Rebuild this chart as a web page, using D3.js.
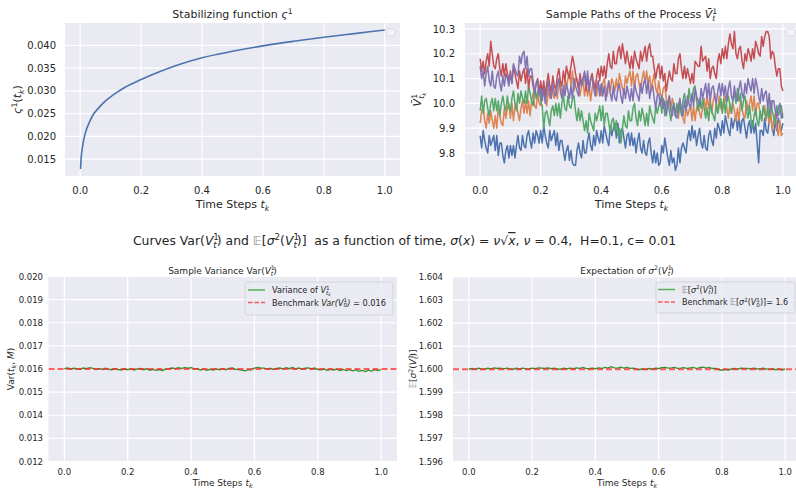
<!DOCTYPE html>
<html><head><meta charset="utf-8">
<script src="https://cdn.jsdelivr.net/npm/d3@7"></script>
<style>body{margin:0;background:#fff}svg{display:block;font-family:"DejaVu Sans",sans-serif}</style>
</head><body><svg id="c" width="796" height="489"></svg>
<script>
// ---------- DATA ----------
const xTickVals = [0, 0.2, 0.4, 0.6, 0.8, 1.0];
const stabYTicks = [0.015, 0.020, 0.025, 0.030, 0.035, 0.040];
const pathYTicks = [9.8, 9.9, 10.0, 10.1, 10.2, 10.3];
const varYTicks = [0.012, 0.013, 0.014, 0.015, 0.016, 0.017, 0.018, 0.019, 0.020];
const expYTicks = [1.596, 1.597, 1.598, 1.599, 1.600, 1.601, 1.602, 1.603, 1.604];

const stabT = [0.001,0.003,0.008,0.015,0.021,0.03,0.043,0.06,0.075,0.1,0.119,0.15,0.2,0.26,0.32,0.4,0.5,0.6,0.7,0.8,0.9,1.0];
const stabV = [0.0128,0.0152,0.0179,0.0203,0.0216,0.0231,0.0248,0.0262,0.0273,0.0287,0.0296,0.0309,0.0325,0.0342,0.0357,0.0373,0.0387,0.0399,0.0409,0.0418,0.0426,0.0434];

const pathBlue = [
9.87,9.82,9.89,9.85,9.82,9.80,9.87,9.83,9.85,9.87,
9.81,9.87,9.79,9.84,9.84,9.79,9.76,9.81,9.83,9.78,
9.83,9.79,9.83,9.78,9.83,9.87,9.82,9.81,9.87,9.83,
9.82,9.87,9.89,9.85,9.82,9.88,9.84,9.89,9.87,9.84,
9.89,9.84,9.91,9.87,9.84,9.82,9.89,9.85,9.87,9.89,
9.83,9.88,9.81,9.85,9.85,9.81,9.77,9.81,9.83,9.77,
9.81,9.76,9.75,9.75,9.81,9.84,9.80,9.78,9.85,9.80,
9.80,9.85,9.88,9.83,9.81,9.87,9.83,9.89,9.86,9.84,
9.89,9.84,9.91,9.88,9.85,9.83,9.91,9.87,9.90,9.92,
9.86,9.92,9.84,9.89,9.90,9.86,9.82,9.87,9.88,9.83,
9.88,9.83,9.86,9.80,9.85,9.88,9.82,9.80,9.85,9.80,
9.79,9.84,9.86,9.80,9.76,9.81,9.76,9.80,9.75,9.76,
9.83,9.80,9.86,9.82,9.78,9.75,9.81,9.76,9.78,9.73,
9.75,9.82,9.76,9.82,9.84,9.82,9.80,9.86,9.89,9.85,
9.91,9.86,9.89,9.83,9.87,9.90,9.84,9.82,9.87,9.82,
9.81,9.87,9.89,9.85,9.83,9.90,9.86,9.92,9.90,9.87,
9.93,9.88,9.95,9.92,9.89,9.87,9.94,9.90,9.93,9.95,
9.89,9.95,9.88,9.93,9.94,9.90,9.86,9.91,9.93,9.88,
9.93,9.88,9.92,9.84,9.76,9.89,9.89,9.87,9.94,9.89,
9.88,9.93,9.95,9.90,9.87,9.93,9.89,9.94,9.92,9.89,
9.92];
const pathOrange = [
9.92,9.97,9.99,9.93,9.90,9.96,9.92,9.97,9.93,9.90,
9.95,9.90,9.98,9.95,9.92,9.91,9.98,9.94,9.98,10.00,
9.94,10.00,9.93,9.99,10.00,9.96,9.93,9.98,10.01,9.96,
10.01,9.96,10.01,9.95,10.01,10.04,9.99,9.98,10.04,10.00,
9.99,10.04,10.07,10.02,9.99,10.06,10.02,10.07,10.04,10.02,
10.07,10.02,10.10,10.07,10.05,10.03,10.10,10.07,10.10,10.13,
10.07,10.13,10.05,10.10,10.10,10.06,10.03,10.07,10.09,10.03,
10.08,10.03,10.07,10.01,10.06,10.09,10.05,10.03,10.09,10.04,
10.03,10.08,10.10,10.06,10.03,10.09,10.05,10.10,10.08,10.05,
10.10,10.05,10.12,10.09,10.06,10.04,10.11,10.08,10.11,10.13,
10.07,10.13,10.06,10.11,10.12,10.08,10.05,10.10,10.13,10.08,
10.13,10.08,10.11,10.05,10.09,10.12,10.06,10.04,10.09,10.04,
10.02,10.06,10.07,10.02,9.98,10.03,9.98,10.02,9.99,9.95,
9.99,9.94,10.01,9.97,9.94,9.92,9.99,9.95,9.97,9.99,
9.93,9.99,9.93,9.98,10.00,9.96,9.94,9.99,10.02,9.97,
10.03,9.98,10.02,9.96,10.01,10.04,9.99,9.97,10.03,9.98,
9.97,10.02,10.03,9.98,9.94,10.00,9.96,10.00,9.97,9.93,
9.98,9.93,10.01,9.98,9.95,9.94,10.01,9.97,10.00,10.03,
9.97,10.03,9.95,10.00,10.00,9.96,9.93,9.97,9.99,9.93,
9.98,9.92,9.96,9.89,9.93,9.96,9.90,9.87,9.93,9.87,
9.88];
const pathGreen = [
9.97,10.03,9.96,10.01,10.02,9.98,9.95,10.00,10.02,9.97,
10.02,9.97,10.01,9.95,10.00,10.03,9.99,9.97,10.03,9.98,
9.97,10.02,10.05,10.00,9.97,10.04,10.00,10.05,10.02,10.00,
10.05,10.00,10.07,10.04,10.01,9.99,10.06,10.02,10.05,10.07,
10.01,9.99,9.90,9.96,9.97,9.94,9.91,9.97,9.99,9.95,
10.00,9.95,10.00,9.94,10.00,10.03,9.98,9.97,10.03,9.99,
9.98,10.02,10.03,9.97,9.93,9.98,9.93,9.97,9.93,9.89,
9.93,9.88,9.96,9.93,9.91,9.89,9.96,9.93,9.96,9.99,
9.93,9.99,9.91,9.96,9.96,9.92,9.88,9.93,9.94,9.89,
9.93,9.87,9.90,9.84,9.90,9.95,9.91,9.90,9.97,9.93,
9.93,9.98,10.00,9.94,9.91,9.97,9.93,9.98,9.95,9.91,
9.96,9.91,9.99,9.96,9.94,9.92,9.99,9.96,9.99,10.02,
9.96,10.02,9.95,10.00,10.01,9.97,9.93,9.98,10.00,9.95,
10.00,9.96,10.00,9.95,10.01,10.04,10.00,9.99,10.06,10.01,
10.01,10.06,10.07,10.01,9.97,10.02,9.98,10.02,9.98,9.94,
9.98,9.93,10.00,9.97,9.95,9.93,10.00,9.96,9.99,10.02,
9.96,10.02,9.96,10.01,10.03,9.99,9.96,10.02,10.04,10.00,
10.06,10.01,10.04,9.97,10.01,10.03,9.97,9.94,9.99,9.93,
9.90,9.95,9.98,9.93,9.91,9.97,9.93,9.99,9.96,9.94,
9.99,9.94,10.01,9.97,9.94,9.92,9.99,9.95,9.97,9.99,
9.94];
const pathRed = [
10.18,10.13,10.17,10.12,10.17,10.20,10.15,10.25,10.20,10.15,
10.14,10.18,10.20,10.14,10.11,10.16,10.11,10.16,10.12,10.09,
10.13,10.08,10.15,10.12,10.09,10.06,10.13,10.09,10.12,10.14,
10.08,10.14,10.06,10.11,10.11,10.07,10.04,10.08,10.10,10.04,
10.09,10.04,10.09,10.03,10.08,10.12,10.07,10.05,10.11,10.07,
10.06,10.11,10.14,10.09,10.07,10.13,10.09,10.15,10.12,10.10,
10.15,10.19,10.16,10.12,10.09,10.06,10.12,10.08,10.10,10.12,
10.05,10.11,10.05,10.10,10.12,10.08,10.06,10.11,10.14,10.09,
10.15,10.11,10.15,10.10,10.16,10.20,10.15,10.14,10.21,10.16,
10.16,10.21,10.23,10.18,10.24,10.20,10.16,10.21,10.17,10.14,
10.19,10.14,10.21,10.18,10.16,10.14,10.21,10.17,10.20,10.23,
10.17,10.22,10.24,10.19,10.19,10.14,10.10,10.14,10.16,10.10,
10.15,10.09,10.12,10.05,10.09,10.13,10.10,10.09,10.16,10.12,
10.12,10.18,10.20,10.14,10.10,10.15,10.10,10.14,10.11,10.08,
10.12,10.08,10.17,10.16,10.15,10.15,10.23,10.17,10.18,10.19,
10.13,10.18,10.10,10.14,10.15,10.12,10.10,10.17,10.20,10.16,
10.22,10.18,10.23,10.18,10.24,10.28,10.24,10.22,10.29,10.20,
10.18,10.22,10.23,10.17,10.14,10.20,10.17,10.22,10.20,10.17,
10.22,10.18,10.25,10.23,10.20,10.19,10.27,10.23,10.27,10.29,
10.29,10.27,10.18,10.21,10.20,10.15,10.11,10.14,10.14,10.07,
10.05];
const pathPurple = [
10.15,10.10,10.13,10.07,10.12,10.15,10.09,10.07,10.13,10.07,
10.06,10.11,10.13,10.08,10.05,10.11,10.07,10.12,10.10,10.07,
10.12,10.08,10.16,10.14,10.12,10.11,10.19,10.16,10.20,10.21,
10.14,10.19,10.11,10.14,10.14,10.09,10.04,10.08,10.09,10.03,
10.06,10.01,10.06,10.00,10.05,10.09,10.04,10.02,10.08,10.04,
10.03,10.08,10.10,10.05,10.02,10.07,10.03,10.08,10.05,10.02,
10.07,10.02,10.10,10.07,10.05,10.03,10.10,10.07,10.10,10.13,
10.07,10.13,10.05,10.10,10.10,10.06,10.03,10.07,10.09,10.03,
10.08,10.03,10.07,10.01,10.06,10.09,10.04,10.01,10.07,10.02,
10.01,10.06,10.08,10.03,10.00,10.06,10.02,10.07,10.04,10.01,
10.06,10.01,10.08,10.05,10.03,10.01,10.08,10.04,10.08,10.10,
10.04,10.09,10.02,10.06,10.07,10.02,9.98,10.03,10.04,9.99,
10.03,9.98,10.01,9.95,10.00,10.03,9.97,9.95,10.00,9.95,
9.94,9.99,10.02,9.97,9.95,10.01,9.97,10.03,10.00,9.98,
10.04,9.99,10.06,10.03,10.01,9.99,10.06,10.02,10.05,10.08,
10.02,10.08,10.01,10.06,10.07,10.03,10.00,10.05,10.08,10.03,
10.08,10.03,10.07,10.01,10.06,10.09,10.03,10.01,10.07,10.02,
10.01,10.06,10.09,10.04,10.02,10.08,10.04,10.10,10.07,10.05,
10.10,10.04,10.10,10.07,10.03,10.00,10.06,10.01,10.04,10.05,
9.98,10.04,9.96,10.01,10.01,9.97,9.94,9.98,10.00,9.94,
9.96];

const varV = [
0.01601,0.01604,0.01600,0.01603,0.01601,0.01599,0.01604,0.01601,0.01606,0.01603,
0.01598,0.01602,0.01598,0.01603,0.01599,0.01597,0.01602,0.01598,0.01596,0.01601,
0.01597,0.01601,0.01596,0.01600,0.01602,0.01597,0.01601,0.01595,0.01599,0.01594,
0.01598,0.01594,0.01600,0.01601,0.01604,0.01601,0.01606,0.01602,0.01607,0.01603,
0.01606,0.01601,0.01601,0.01596,0.01600,0.01595,0.01599,0.01596,0.01600,0.01597,
0.01601,0.01597,0.01602,0.01604,0.01599,0.01598,0.01595,0.01592,0.01596,0.01597,
0.01604,0.01607,0.01604,0.01604,0.01599,0.01603,0.01598,0.01602,0.01604,0.01600,
0.01605,0.01601,0.01606,0.01600,0.01604,0.01599,0.01603,0.01605,0.01600,0.01604,
0.01598,0.01597,0.01600,0.01595,0.01599,0.01596,0.01600,0.01594,0.01598,0.01593,
0.01597,0.01592,0.01596,0.01590,0.01594,0.01589,0.01595,0.01591,0.01597,0.01593,
0.01597];
const expV = [
1.60001,1.60003,1.60000,1.60004,1.60001,1.60000,1.60004,1.60001,1.60006,1.60003,
1.60004,1.60001,1.60005,1.60002,1.60000,1.60004,1.60001,1.60005,1.60002,1.60001,
1.60005,1.60002,1.60006,1.60005,1.60003,1.60006,1.60002,1.60005,1.60001,1.60000,
1.60004,1.60001,1.60005,1.60002,1.60006,1.60003,1.60008,1.60004,1.60002,1.60005,
1.60002,1.60006,1.60003,1.60008,1.60005,1.60011,1.60006,1.60005,1.60009,1.60005,
1.60008,1.60004,1.60005,1.60000,1.59999,1.60002,1.59999,1.60003,1.60000,1.60004,
1.60003,1.60007,1.60008,1.60005,1.60006,1.60008,1.60004,1.60005,1.60007,1.60003,
1.60006,1.60008,1.60003,1.60007,1.60009,1.60005,1.60008,1.60003,1.60003,1.59999,
1.59996,1.60000,1.59997,1.60001,1.60003,1.60000,1.60005,1.60004,1.60004,1.60001,
1.60005,1.60002,1.60001,1.60004,1.60001,1.60000,1.60002,1.59998,1.60001,1.59997,
1.60002];
const varBenchmark = 0.016;
const expBenchmark = 1.6;

// ---------- DRAW ----------
const svg = d3.select("#c");
const TXT = "#262626", BG = "#EAEAF2";
const pal = {blue:"#4C72B0", orange:"#DD8452", green:"#55A868", red:"#C44E52", purple:"#8172B3"};
const NB = "\u00a0";

function mtext(g, x, y, fs, parts, o = {}) {
  const t = g.append("text").attr("x", x).attr("y", y).attr("font-size", fs)
    .attr("text-anchor", o.anchor || "middle").attr("fill", o.fill || TXT);
  if (o.rotate) t.attr("transform", `rotate(-90,${x},${y})`);
  let cur = 0, prev = null;
  parts.forEach(p => {
    const [s, f] = typeof p === "string" ? [p, ""] : p;
    let lvl = "b";
    if (f.includes("^")) lvl = "sup";
    if (f.includes("_")) lvl = "sub";
    if (f.includes("%")) lvl = "ss";
    const shift = {b:0, sup:-0.38*fs, sub:0.24*fs, ss:0.42*fs}[lvl];
    const size = {b:fs, sup:0.7*fs, sub:0.7*fs, ss:0.5*fs}[lvl];
    const ts = t.append("tspan").text(s).attr("font-size", size).attr("dy", shift - cur);
    if (f.includes("i")) ts.attr("font-style", "italic");
    if (f.includes("s") && prev) ts.attr("dx", -prev.node().getComputedTextLength());
    if (f.includes("o")) ts.attr("text-decoration", "overline");
    if (f.includes("g")) ts.attr("fill", "#8a8a8a");
    cur = shift; prev = ts;
  });
  return t;
}

let clipId = 0;
function panel(c) {
  const g = svg.append("g");
  const x = d3.scaleLinear().domain([-0.05, 1.05]).range([c.l, c.r]);
  const y = d3.scaleLinear().domain(c.yd).range([c.b, c.t]);
  g.append("rect").attr("x", c.l).attr("y", c.t).attr("width", c.r - c.l).attr("height", c.b - c.t).attr("fill", BG);
  g.selectAll(".gx").data(xTickVals).join("line").attr("x1", d => x(d)).attr("x2", d => x(d))
    .attr("y1", c.t).attr("y2", c.b).attr("stroke", "#fff").attr("stroke-width", 1.2);
  g.selectAll(".gy").data(c.yt).join("line").attr("y1", d => y(d)).attr("y2", d => y(d))
    .attr("x1", c.l).attr("x2", c.r).attr("stroke", "#fff").attr("stroke-width", 1.2);
  g.selectAll(".tx").data(xTickVals).join("text").attr("x", d => x(d)).attr("y", c.xty)
    .attr("text-anchor", "middle").attr("font-size", c.tfs).attr("fill", TXT).text(d => d3.format(".1f")(d));
  g.selectAll(".ty").data(c.yt).join("text").attr("x", c.ytx).attr("y", d => y(d) + c.tfs * 0.36)
    .attr("text-anchor", "end").attr("font-size", c.tfs).attr("fill", TXT).text(d => c.yf(d));
  const id = "clip" + (clipId++);
  svg.append("clipPath").attr("id", id).append("rect").attr("x", c.l).attr("y", c.t).attr("width", c.r - c.l).attr("height", c.b - c.t);
  const plot = g.append("g").attr("clip-path", `url(#${id})`);
  return {g, x, y, plot};
}

// Top-left
const p1 = panel({l:65, r:400, t:23, b:176, yd:[0.01127, 0.04493], yt:stabYTicks, yf:d3.format(".3f"), tfs:10, xty:194, ytx:56});
p1.plot.append("path").datum(stabT.map((t, i) => [t, stabV[i]]))
  .attr("d", d3.line().x(d => p1.x(d[0])).y(d => p1.y(d[1])).curve(d3.curveMonotoneX))
  .attr("fill", "none").attr("stroke", pal.blue).attr("stroke-width", 1.6);
p1.g.append("rect").attr("x", 386).attr("y", 29).attr("width", 9).attr("height", 7).attr("rx", 1.5)
  .attr("fill", "#f2f2f7").attr("stroke", "#d4d4dc").attr("stroke-width", 0.8);
mtext(p1.g, 232.5, 18, 11, ["Stabilizing function ", ["ς", "i"], ["1", "^"]]);
mtext(p1.g, 232.5, 208, 11, ["Time Steps ", ["t", "i"], ["k", "i_"]]);
mtext(p1.g, 21, 99.5, 11, [["ς", "i"], ["1", "^"], ["(", ""], ["t", "i"], ["k", "i_"], [")", ""]], {rotate:true});

// Top-right
const p2 = panel({l:465, r:798, t:23, b:176, yd:[9.707, 10.324], yt:pathYTicks, yf:d3.format(".1f"), tfs:10, xty:194, ytx:455});
const tGrid = d3.range(pathBlue.length).map(i => i / (pathBlue.length - 1));
[[pathBlue, pal.blue], [pathOrange, pal.orange], [pathGreen, pal.green], [pathRed, pal.red], [pathPurple, pal.purple]].forEach(([arr, col]) => {
  p2.plot.append("path").datum(arr)
    .attr("d", d3.line().x((d, i) => p2.x(tGrid[i])).y(d => p2.y(d)))
    .attr("fill", "none").attr("stroke", col).attr("stroke-width", 1.5).attr("stroke-linejoin", "round");
});
p2.g.append("rect").attr("x", 786).attr("y", 29).attr("width", 9).attr("height", 7).attr("rx", 1.5)
  .attr("fill", "#f2f2f7").attr("stroke", "#d4d4dc").attr("stroke-width", 0.8);
mtext(p2.g, 631.5, 18, 11, ["Sample Paths of the Process ", ["V\u0304", "i"], ["1", "^"], ["t", "is_"]]);
mtext(p2.g, 631.5, 208, 11, ["Time Steps ", ["t", "i"], ["k", "i_"]]);
mtext(p2.g, 421, 99.5, 11, [["V\u0304", "i"], ["1", "^"], ["t", "is_"], ["k", "i%"]], {rotate:true});

// Suptitle
mtext(svg, 404.5, 245, 12.4, ["Curves Var(", ["V", "i"], ["1", "^"], ["t", "is_"], [") and ", ""], ["\u{1D53C}", "g"], ["[", ""], ["σ", "i"], ["2", "^"], ["(", ""], ["V", "i"], ["1", "^"], ["t", "is_"], [")]" + NB + NB + "as a function of time, ", ""], ["σ", "i"], ["(", ""], ["x", "i"], [") = ", ""], ["ν", "i"], ["√", ""], ["x", "io"], [", ", ""], ["ν", "i"], [" = 0.4," + NB + NB + "H=0.1, c= 0.01", ""]]);

// Bottom-left
const p3 = panel({l:48.5, r:397, t:276.5, b:461.5, yd:[0.012, 0.020], yt:varYTicks, yf:d3.format(".3f"), tfs:8.5, xty:475, ytx:43});
p3.plot.append("path").datum(varV)
  .attr("d", d3.line().x((d, i) => p3.x(i / (varV.length - 1))).y(d => p3.y(d)))
  .attr("fill", "none").attr("stroke", "#2f922f").attr("stroke-width", 1.4);
p3.plot.append("line").attr("x1", 48.5).attr("x2", 397).attr("y1", p3.y(varBenchmark)).attr("y2", p3.y(varBenchmark))
  .attr("stroke", "#ff2a2a").attr("stroke-opacity", 0.75).attr("stroke-width", 2).attr("stroke-dasharray", "6,3");
mtext(p3.g, 222.5, 273.5, 9, ["Sample Variance Var(", ["V", "i"], ["1", "^"], ["t", "is_"], [")", ""]]);
mtext(p3.g, 222.5, 486, 9, ["Time Steps ", ["t", "i"], ["k", "i_"]]);
mtext(p3.g, 13.5, 369, 9, ["Var(", ["t", "i"], ["k", "i_"], [", ", ""], ["M", "i"], [")", ""]], {rotate:true});
// legend
p3.g.append("rect").attr("x", 245).attr("y", 282).attr("width", 148).attr("height", 33).attr("rx", 2.5)
  .attr("fill", BG).attr("fill-opacity", 0.8).attr("stroke", "#cfcfd6").attr("stroke-width", 0.8);
p3.g.append("line").attr("x1", 248).attr("x2", 265).attr("y1", 290).attr("y2", 290).attr("stroke", "#55b055").attr("stroke-width", 1.5);
p3.g.append("line").attr("x1", 248).attr("x2", 265).attr("y1", 302.5).attr("y2", 302.5).attr("stroke", "#ff2a2a").attr("stroke-opacity", 0.75).attr("stroke-width", 1.5).attr("stroke-dasharray", "4.5,2");
mtext(p3.g, 272, 293, 8.2, ["Variance of ", ["V", "i"], ["1", "^"], ["t", "is_"], ["k", "i%"]], {anchor:"start"});
mtext(p3.g, 272, 305.5, 8.2, ["Benchmark ", ["Var(V", "i"], ["1", "^"], ["0", "s_"], [")", "i"], [" = 0.016", ""]], {anchor:"start"});

// Bottom-right
const p4 = panel({l:453, r:801, t:277, b:461.5, yd:[1.596, 1.604], yt:expYTicks, yf:d3.format(".3f"), tfs:8.5, xty:475, ytx:443});
p4.plot.append("path").datum(expV)
  .attr("d", d3.line().x((d, i) => p4.x(i / (expV.length - 1))).y(d => p4.y(d)))
  .attr("fill", "none").attr("stroke", "#2f922f").attr("stroke-width", 1.4);
p4.plot.append("line").attr("x1", 453).attr("x2", 801).attr("y1", p4.y(expBenchmark)).attr("y2", p4.y(expBenchmark))
  .attr("stroke", "#ff2a2a").attr("stroke-opacity", 0.75).attr("stroke-width", 2).attr("stroke-dasharray", "6,3");
mtext(p4.g, 627, 273.5, 9, ["Expectation of ", ["σ", "i"], ["2", "^"], ["(", ""], ["V", "i"], ["1", "^"], ["t", "is_"], [")", ""]]);
mtext(p4.g, 627, 486, 9, ["Time Steps ", ["t", "i"], ["k", "i_"]]);
mtext(p4.g, 416, 369, 9, [["\u{1D53C}", "g"], ["[", ""], ["σ", "i"], ["2", "^"], ["(", ""], ["V", "i"], ["1", "^"], ["t", "is_"], [")]", ""]], {rotate:true});
p4.g.append("rect").attr("x", 656).attr("y", 282).attr("width", 139).attr("height", 31).attr("rx", 2.5)
  .attr("fill", BG).attr("fill-opacity", 0.8).attr("stroke", "#cfcfd6").attr("stroke-width", 0.8);
p4.g.append("line").attr("x1", 658).attr("x2", 675).attr("y1", 289.5).attr("y2", 289.5).attr("stroke", "#55b055").attr("stroke-width", 1.5);
p4.g.append("line").attr("x1", 658).attr("x2", 675).attr("y1", 302).attr("y2", 302).attr("stroke", "#ff2a2a").attr("stroke-opacity", 0.75).attr("stroke-width", 1.5).attr("stroke-dasharray", "4.5,2");
mtext(p4.g, 682, 292.5, 8, [["\u{1D53C}", "g"], ["[", ""], ["σ", "i"], ["2", "^"], ["(", ""], ["V", "i"], ["1", "^"], ["t", "is_"], [")]", ""]], {anchor:"start"});
mtext(p4.g, 682, 305, 8, ["Benchmark ", ["\u{1D53C}", "g"], ["[", ""], ["σ", "i"], ["2", "^"], ["(", ""], ["V", "i"], ["1", "^"], ["0", "s_"], [")]= 1.6", ""]], {anchor:"start"});
</script></body></html>
